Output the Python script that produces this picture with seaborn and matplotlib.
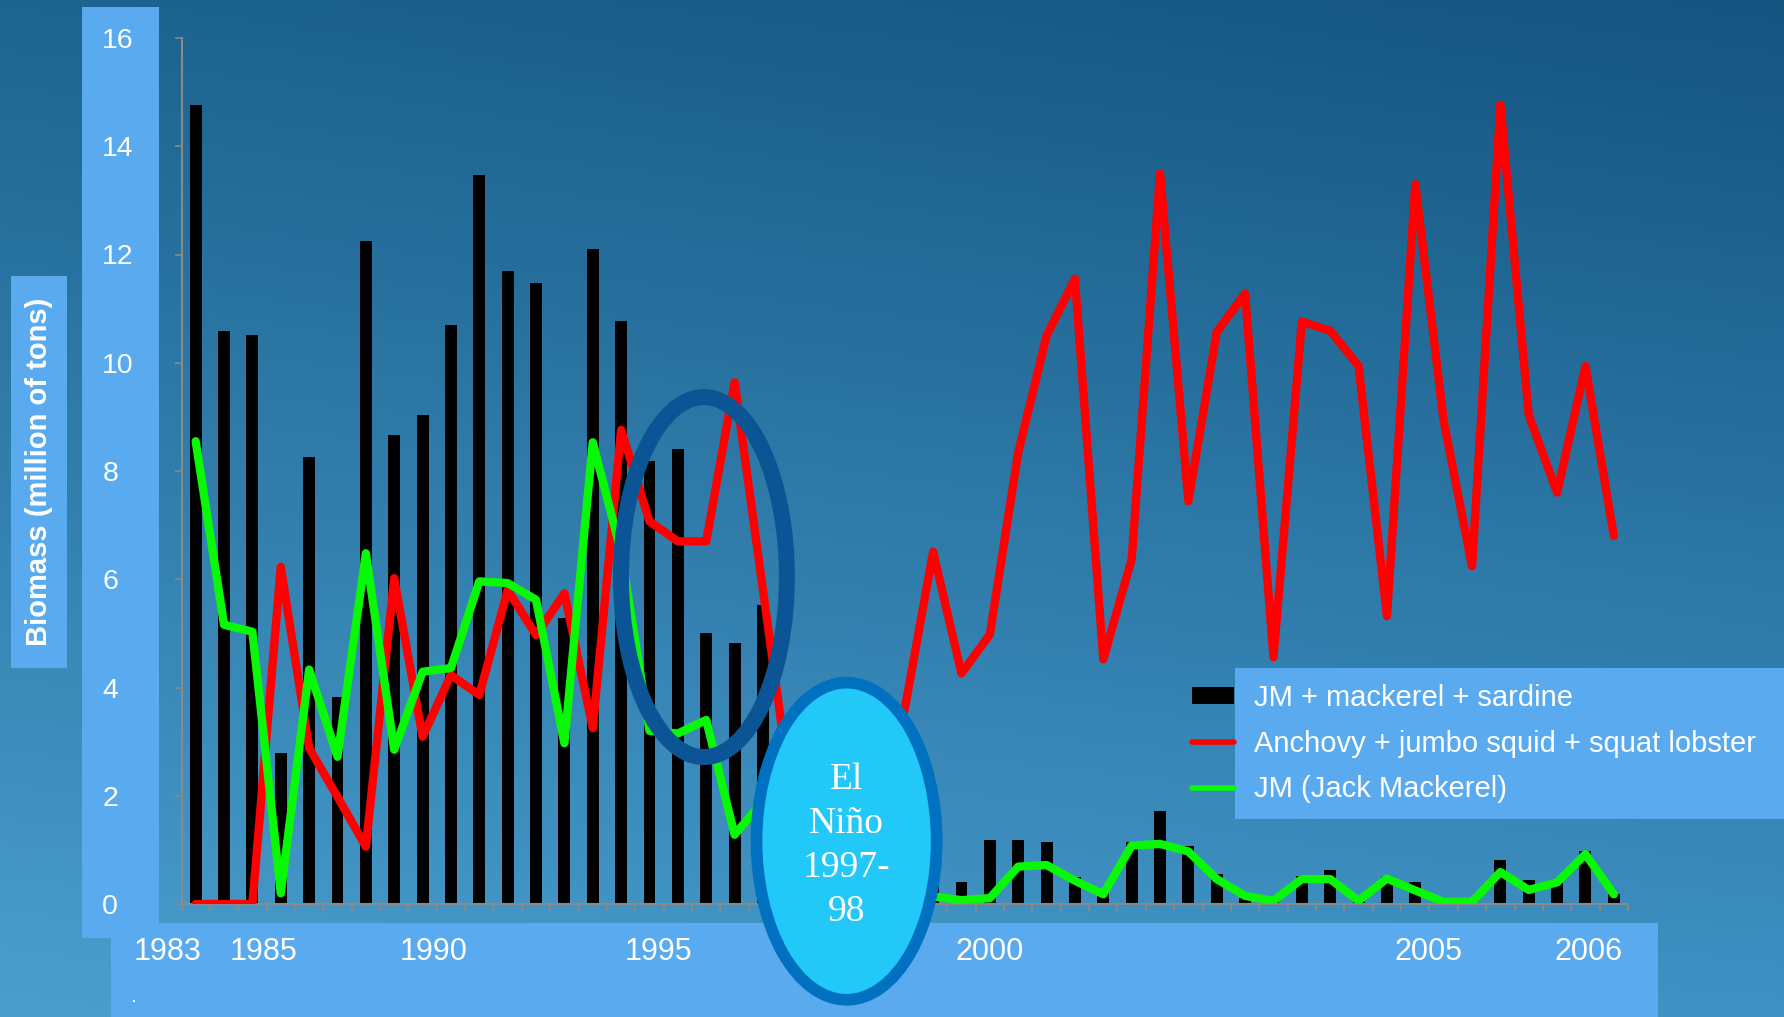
import numpy as np
import pandas as pd
import matplotlib
matplotlib.use("Agg")
import matplotlib.pyplot as plt
from matplotlib.patches import Ellipse, Rectangle, Patch
from matplotlib.lines import Line2D
from matplotlib import transforms, font_manager
import seaborn as sns

# ---- data: biomass (million tons) per survey period, 1983-2006 ----
period = list(range(51))
jm_mackerel_sardine = [
    14.77, 10.59, 10.52, 2.79, 8.26, 3.82, 12.25, 8.67, 9.04, 10.70,
    13.47, 11.70, 11.48, 5.29, 12.10, 10.78, 8.19, 8.41, 5.00, 4.82,
    5.53, 2.50, 1.20, 0.60, 0.40, 0.30, 0.43, 0.41, 1.19, 1.19,
    1.15, 0.49, 0.25, 1.15, 1.71, 1.08, 0.55, 0.12, 0.05, 0.52,
    0.63, 0.05, 0.50, 0.41, 0.00, 0.02, 0.82, 0.45, 0.43, 0.97,
    0.18,
]
anchovy_squid_lobster = [
    0.00, 0.00, 0.00, 6.23, 2.88, 1.98, 1.06, 6.02, 3.09, 4.23,
    3.86, 5.80, 4.97, 5.74, 3.25, 8.76, 7.07, 6.70, 6.70, 9.64,
    5.80, 2.00, 1.50, 1.20, 2.00, 3.60, 6.51, 4.26, 4.98, 8.34,
    10.50, 11.55, 4.52, 6.37, 13.50, 7.44, 10.57, 11.28, 4.56, 10.76,
    10.59, 9.94, 5.32, 13.30, 8.93, 6.24, 14.77, 9.03, 7.60, 9.94,
    6.80,
]
jack_mackerel = [
    8.55, 5.16, 5.03, 0.20, 4.33, 2.72, 6.48, 2.85, 4.29, 4.36,
    5.96, 5.93, 5.62, 2.97, 8.53, 6.50, 3.20, 3.15, 3.40, 1.28,
    1.90, 1.00, 0.50, 0.30, 0.20, 0.15, 0.14, 0.07, 0.11, 0.69,
    0.72, 0.43, 0.18, 1.08, 1.11, 0.97, 0.46, 0.15, 0.06, 0.46,
    0.46, 0.06, 0.47, 0.25, 0.04, 0.04, 0.59, 0.26, 0.40, 0.92,
    0.18,
]
year_labels = ["1983", "1985", "1990", "1995", "2000", "2005", "2006"]
year_label_at = [-1.0, 2.4, 8.4, 16.3, 28.0, 43.45, 49.1]
series_names = ["JM + mackerel + sardine",
                "Anchovy + jumbo squid + squat lobster",
                "JM (Jack Mackerel)"]

df = pd.DataFrame({
    "period": period,
    "bars": jm_mackerel_sardine,
    "anchovy": anchovy_squid_lobster,
    "jm": jack_mackerel,
})

sns.set_style("ticks")
plt.rcParams["font.family"] = ["Liberation Sans", "DejaVu Sans"]

installed = {f.name for f in font_manager.fontManager.ttflist}
if "Liberation Sans Narrow" in installed:
    legend_family, legend_size = ["Liberation Sans Narrow", "DejaVu Sans"], 26
else:
    legend_family, legend_size = ["Liberation Sans", "DejaVu Sans"], 21

W, H = 1784, 1017
BAND = "#5aaaf0"
WHITE = "white"
GRAY = "#8a8a8a"
RED = "#ff0000"
GREEN = "#08f808"

fig = plt.figure(figsize=(W / 100, H / 100), dpi=100)

# ---- background gradient and light panels (pixel coordinates) ----
bg = fig.add_axes([0, 0, 1, 1], zorder=-10)
bg.set_xlim(0, W)
bg.set_ylim(H, 0)
bg.axis("off")
tl = np.array([29, 100, 144]) / 255
tr = np.array([20, 84, 128]) / 255
bl = np.array([74, 158, 206]) / 255
br = np.array([62, 146, 196]) / 255
u = np.linspace(0, 1, 256)[None, :, None]
v = np.linspace(0, 1, 160)[:, None, None]
grad = (1 - v) * ((1 - u) * tl + u * tr) + v * ((1 - u) * bl + u * br)
bg.imshow(grad, extent=(0, W, H, 0), aspect="auto", interpolation="bilinear")
bg.add_patch(Rectangle((82, 7), 77, 931, fc=BAND, ec="none"))
bg.add_patch(Rectangle((111, 923), 1547, 94, fc=BAND, ec="none"))
bg.add_patch(Rectangle((11, 276), 56, 392, fc=BAND, ec="none"))
bg.add_patch(Rectangle((1234.5, 668), 549.5, 151, fc=BAND, ec="none"))
bg.text(134, 996, ".", color=WHITE, fontsize=16, ha="center", va="center")

# ---- main chart ----
ax = fig.add_axes([181.5 / W, (H - 904) / H, (1628 - 181.5) / W, 866 / H])
ax.set_facecolor("none")

sns.barplot(data=df, x="period", y="bars", color="black", width=0.42,
            saturation=1, ax=ax, zorder=2, edgecolor="none", linewidth=0)
sns.lineplot(data=df, x="period", y="anchovy", color=RED, lw=6, ax=ax,
             zorder=3, solid_joinstyle="round")
sns.lineplot(data=df, x="period", y="jm", color=GREEN, lw=6, ax=ax,
             zorder=4, solid_joinstyle="round")

ax.set_xlim(-0.5, 50.5)
ax.set_ylim(0, 16)
ax.set_xlabel("")
for s in ("top", "right"):
    ax.spines[s].set_visible(False)
for s in ("left", "bottom"):
    ax.spines[s].set_color(GRAY)
    ax.spines[s].set_linewidth(1.5)

ax.set_yticks(np.arange(0, 17, 2))
ax.tick_params(axis="y", length=5, width=1.2, color=GRAY, pad=52,
               labelsize=20.5, labelcolor=WHITE)
for t in ax.get_yticklabels():
    t.set_horizontalalignment("left")

ax.set_xticks([])
ax.set_xticks(np.arange(-0.5, 51, 1), minor=True)
ax.tick_params(axis="x", which="minor", length=5, width=1.2, color=GRAY)
blend = transforms.blended_transform_factory(ax.transData, ax.transAxes)
for lbl, pos in zip(year_labels, year_label_at):
    ax.text(pos, -0.0554, lbl, transform=blend, ha="center", va="center",
            color=WHITE, fontsize=22, clip_on=False)

ax.set_ylabel("Biomass (million of tons)", color=WHITE, fontsize=21,
              fontweight="bold")
ax.yaxis.label.set_verticalalignment("center")
ax.yaxis.set_label_coords(-0.0985, 0.4988)

# ---- annotations ----
ax.add_patch(Ellipse((17.92, 6.04), 5.85, 6.65, fill=False, ec="#0b5597",
                     lw=11.5, zorder=5, clip_on=False))
ax.add_patch(Ellipse((22.95, 1.16), 6.35, 5.86, fc="#22c8f8", ec="#0070c0",
                     lw=8.4, zorder=6, clip_on=False))
ax.text(22.95, 1.08, "El\nNiño\n1997-\n98", ha="center", va="center",
        color=WHITE, fontsize=27, linespacing=1.36, zorder=7,
        family=["Liberation Serif", "DejaVu Serif"])

# ---- legend ----
handles = [Patch(fc="black", ec="none"),
           Line2D([], [], color=RED, lw=4),
           Line2D([], [], color=GREEN, lw=4)]
leg = fig.legend(handles, series_names, loc="upper left",
                 bbox_to_anchor=(1192 / W, 1 - 684 / H), frameon=False,
                 prop={"family": legend_family, "size": legend_size},
                 handlelength=30.2 / legend_size, handleheight=0.5,
                 handletextpad=14.4 / legend_size, labelspacing=0.6,
                 borderpad=0, borderaxespad=0)
for t in leg.get_texts():
    t.set_color(WHITE)

fig.savefig("out.png", dpi=100)
